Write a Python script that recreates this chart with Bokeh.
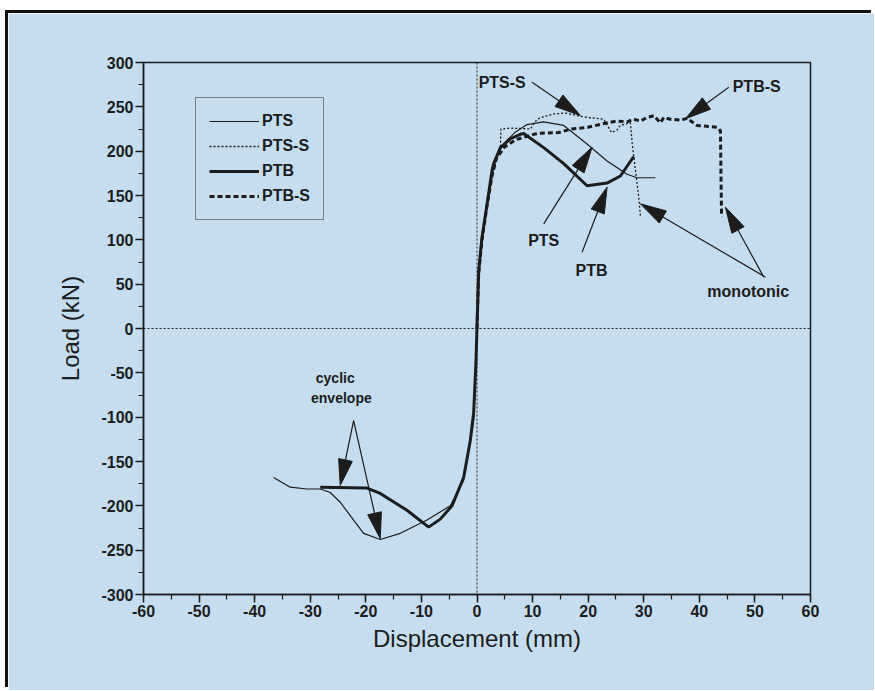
import math
from bokeh.plotting import figure
from bokeh.models import (Range1d, SingleIntervalTicker, Span, Legend, LegendItem,
                          ColumnDataSource, CustomJSTickFormatter)
from bokeh.core.properties import value
from bokeh.embed import file_html
from bokeh.resources import INLINE

# ---------------- data ----------------
pts_x = [-36.6, -33.6, -30.6, -28.2, -26.4, -24.6, -22.2, -20.4, -17.4, -13.8, -9.0, -4.8,
         -2.4, -1.2, -0.6, -0.3, 0.0, 0.3, 0.9, 1.8, 2.7, 3.3, 4.2, 5.5, 7.0, 9.0, 12.0,
         15.6, 19.8, 23.4, 27.0, 28.8, 32.1]
pts_y = [-168, -179, -181, -181, -185, -196, -216, -231, -238, -231, -216, -200,
         -171, -126, -104, -50, 0, 60, 100, 140, 175, 190, 203, 213, 222, 230, 233,
         229, 208, 189, 174, 170, 170]

ptss_x = [0.0, 0.3, 0.9, 1.8, 2.7, 3.5, 4.2, 4.3, 6.0, 9.6, 10.8, 12.0, 13.8, 16.0, 18.0,
          20.0, 22.8, 24.2, 25.2, 25.8, 27.6, 27.9, 28.3, 29.1, 29.4]
ptss_y = [0, 60, 98, 136, 170, 190, 204, 225, 226, 225, 236, 239, 242, 243, 240,
          238, 236, 221, 224, 229, 232, 210, 189, 148, 127]

ptb_x = [-28.2, -19.8, -17.4, -12.6, -8.7, -6.6, -4.5, -2.4, -1.2, -0.6, -0.2, 0.3, 0.9,
         1.8, 2.7, 3.0, 4.2, 6.0, 7.8, 8.4, 12.0, 15.6, 19.8, 23.4, 25.8, 28.2]
ptb_y = [-179, -180, -186, -205, -224, -215, -200, -168, -126, -95, -40, 65, 103,
         140, 178, 186, 204, 214, 219, 220, 204, 186, 161, 164, 172, 194]

ptbs_x = [0.0, 0.3, 0.9, 1.8, 2.7, 3.5, 5.0, 7.0, 10.8, 14.7, 17.0, 20.0, 23.4, 25.2, 27.0,
          28.2, 29.4, 30.6, 31.8, 33.0, 33.6, 34.8, 36.6, 37.8, 39.6, 43.2, 43.8, 43.9, 44.0]
ptbs_y = [0, 62, 100, 138, 172, 192, 205, 213, 220, 221, 225, 227, 232, 234, 233,
          236, 234, 238, 240, 232, 238, 236, 235, 237, 229, 227, 223, 170, 126]

x_ticks_interval = 10
y_ticks_interval = 50

# annotation texts
note_text = ["PTS-S", "PTB-S", "PTS", "PTB", "monotonic", "cyclic", "envelope"]
note_x = [0.3, 46.0, 12.0, 20.6, 48.8, -25.5, -24.4]
note_y = [278.0, 273.0, 99.0, 65.0, 42.0, -56.0, -78.0]
note_align = ["left", "left", "center", "center", "center", "center", "center"]
note_size = ["16px", "16px", "16px", "16px", "16px", "14px", "14px"]

# arrows: start -> tip
arr_x0 = [9.9, 45.3, 12.0, 18.9, 51.9, 51.6, -22.2, -22.2]
arr_y0 = [277.8, 272.0, 118.0, 86.0, 57.9, 57.9, -103.8, -103.8]
arr_x1 = [18.6, 37.5, 20.7, 23.4, 29.4, 44.7, -24.6, -17.4]
arr_y1 = [240.2, 236.5, 204.5, 159.4, 140.6, 136.8, -177.0, -237.0]

# ---------------- figure ----------------
W, H = 866, 677
ML, MR, MT, MB = 135, 64, 49, 96
BG = "#c6ddf0"
INK = "#1c1c1c"
FONT = "Liberation Sans"
XMIN, XMAX, YMIN, YMAX = -60, 60, -300, 300

p = figure(width=W, height=H, output_backend="svg", toolbar_location=None,
           x_range=Range1d(XMIN, XMAX), y_range=Range1d(YMIN, YMAX),
           min_border_left=ML, min_border_right=MR, min_border_top=MT, min_border_bottom=MB,
           background_fill_color=BG, border_fill_color=BG)
p.styles = {"margin-top": "13px", "margin-left": "8px",
            "box-shadow": "-3px -3px 0px 0px #111111"}
p.grid.visible = False
p.outline_line_color = INK
p.outline_line_width = 1.5

p.xaxis.ticker = SingleIntervalTicker(interval=x_ticks_interval, num_minor_ticks=2)
p.yaxis.ticker = SingleIntervalTicker(interval=y_ticks_interval, num_minor_ticks=2)
fmt = CustomJSTickFormatter(code="return tick.toFixed(0);")
p.xaxis.formatter = fmt
p.yaxis.formatter = fmt
p.xaxis.axis_label = "Displacement (mm)"
p.yaxis.axis_label = "Load (kN)"
for ax in (p.xaxis[0], p.yaxis[0]):
    ax.axis_line_color = INK
    ax.axis_line_width = 1.5
    ax.major_tick_line_color = INK
    ax.major_tick_line_width = 1.5
    ax.major_tick_out = 8
    ax.major_tick_in = 0
    ax.minor_tick_line_color = INK
    ax.minor_tick_line_width = 1.2
    ax.minor_tick_out = 5
    ax.minor_tick_in = 0
    ax.major_label_standoff = 2
    ax.major_label_text_font = FONT
    ax.major_label_text_font_size = "16px"
    ax.major_label_text_font_style = "bold"
    ax.major_label_text_color = INK
    ax.axis_label_text_font = FONT
    ax.axis_label_text_font_size = "24px"
    ax.axis_label_text_font_style = "normal"
    ax.axis_label_text_color = INK
p.xaxis.axis_label_standoff = 5
p.yaxis.axis_label_standoff = 14

# zero lines
p.add_layout(Span(location=0, dimension="height", line_color=INK, line_width=1, line_dash="2 2"))
p.add_layout(Span(location=0, dimension="width", line_color=INK, line_width=1, line_dash="2 2"))

# curves
r_pts = p.line(pts_x, pts_y, line_color=INK, line_width=1.2)
r_ptss = p.line(ptss_x, ptss_y, line_color=INK, line_width=1.3, line_dash="2 2")
r_ptb = p.line(ptb_x, ptb_y, line_color=INK, line_width=3)
r_ptbs = p.line(ptbs_x, ptbs_y, line_color=INK, line_width=3, line_dash="5 3")

legend = Legend(items=[LegendItem(label="PTS", renderers=[r_pts]),
                       LegendItem(label="PTS-S", renderers=[r_ptss]),
                       LegendItem(label="PTB", renderers=[r_ptb]),
                       LegendItem(label="PTB-S", renderers=[r_ptbs])],
                location=(52, 374), glyph_width=50, glyph_height=20, spacing=5,
                padding=13, margin=0, label_standoff=3,
                label_text_font=FONT, label_text_font_size="16px",
                label_text_font_style="bold", label_text_color=INK,
                background_fill_alpha=0, border_line_color=INK, border_line_width=1.3)
p.add_layout(legend)

# arrows (shaft + narrow filled head computed in screen space)
sx = (W - ML - MR) / (XMAX - XMIN)
sy = (H - MT - MB) / (YMAX - YMIN)
HEAD_LEN, HEAD_HALF = 26, 7
head_xs, head_ys, shaft_x1, shaft_y1 = [], [], [], []
for x0, y0, x1, y1 in zip(arr_x0, arr_y0, arr_x1, arr_y1):
    dx, dy = (x1 - x0) * sx, (y1 - y0) * sy
    L = math.hypot(dx, dy)
    ux, uy = dx / L, dy / L
    tx, ty = x1 * sx, y1 * sy
    bx, by = tx - ux * HEAD_LEN, ty - uy * HEAD_LEN
    nx, ny = -uy, ux
    pts = [(tx, ty), (bx + nx * HEAD_HALF, by + ny * HEAD_HALF), (bx - nx * HEAD_HALF, by - ny * HEAD_HALF)]
    head_xs.append([q[0] / sx for q in pts])
    head_ys.append([q[1] / sy for q in pts])
    shaft_x1.append(bx / sx)
    shaft_y1.append(by / sy)
p.segment(x0=arr_x0, y0=arr_y0, x1=shaft_x1, y1=shaft_y1, line_color=INK, line_width=1.2)
p.patches(head_xs, head_ys, fill_color=INK, line_color=INK, line_width=1)

src = ColumnDataSource(dict(x=note_x, y=note_y, text=note_text, align=note_align, size=note_size))
p.text(x="x", y="y", text="text", source=src, text_align="align", text_baseline="middle",
       text_font=value(FONT), text_font_size="size", text_font_style="bold", text_color=INK)

open("out.html", "w").write(file_html(p, INLINE))
